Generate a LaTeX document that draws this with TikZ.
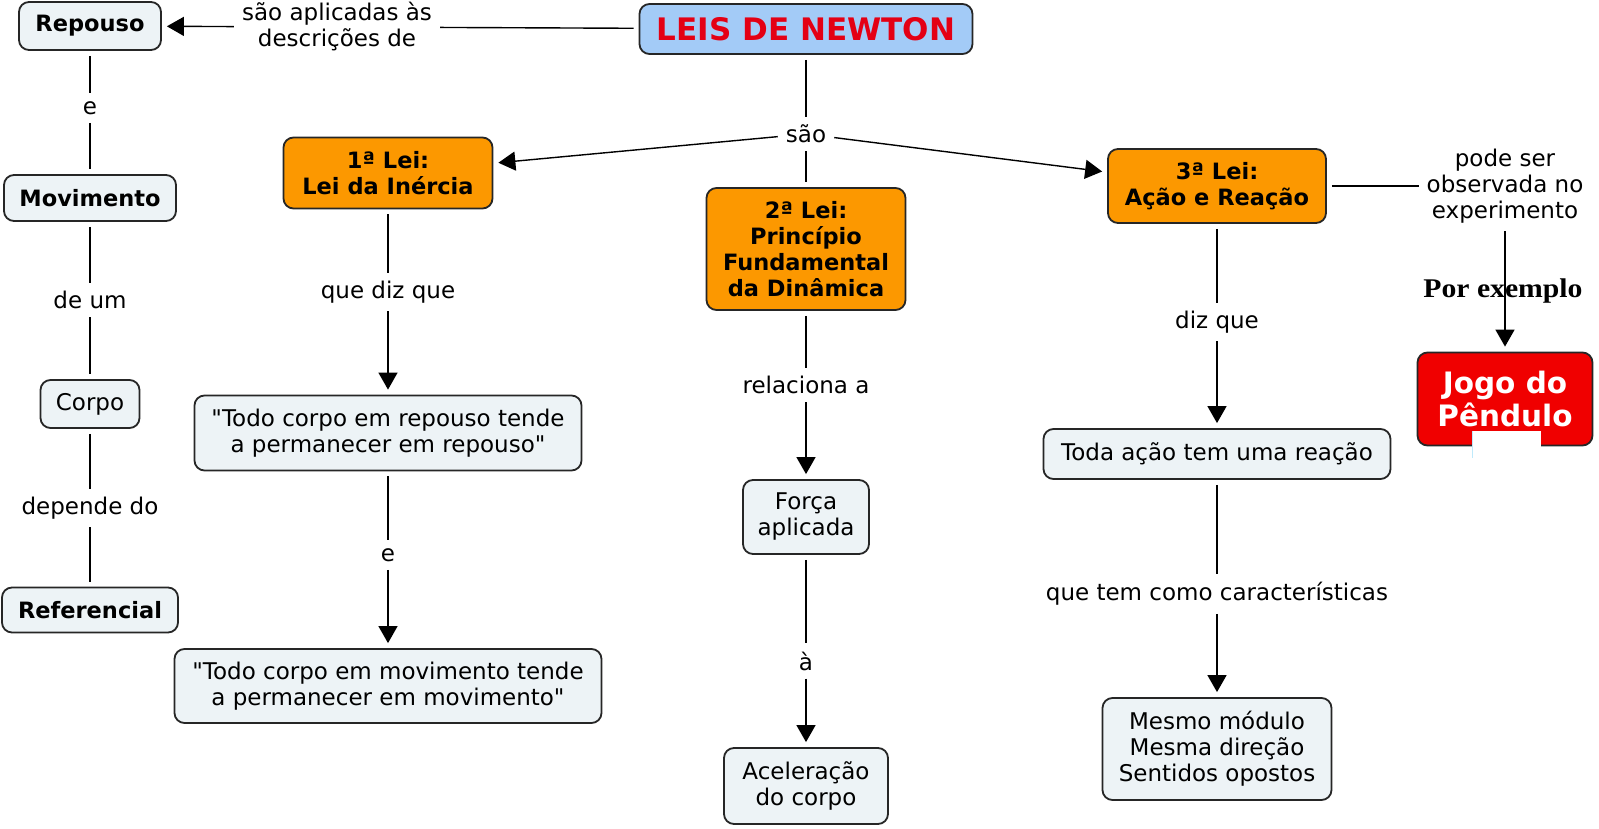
\documentclass[tikz,border=0pt]{standalone}
\usepackage{fontspec}
\newfontfamily\mapfont{DejaVu Sans}
\newfontfamily\examplefont[FakeStretch=1.1]{Liberation Serif}
\usepackage{tikz}
\usetikzlibrary{arrows.meta}

\definecolor{conceptfill}{RGB}{237,243,246}
\definecolor{laworange}{RGB}{252,152,0}
\definecolor{newtonblue}{RGB}{163,203,247}
\definecolor{titlered}{RGB}{228,0,20}
\definecolor{pendred}{RGB}{240,0,0}

\tikzset{
	concept/.style={draw=black!85, line width=1.8pt, rounded corners=10pt, fill=conceptfill,
		align=center, inner sep=0pt, font=\mapfont\fontsize{23}{26}\selectfont},
	keyconcept/.style={concept, font=\mapfont\bfseries\fontsize{22.5}{26}\selectfont},
	lawbox/.style={keyconcept, fill=laworange},
	linklabel/.style={align=center, inner sep=3pt, font=\mapfont\fontsize{23}{26}\selectfont},
	link/.style={line width=1.4pt, shorten <=5pt, shorten >=5pt},
	arrowlink/.style={link, -{Triangle[length=17pt,width=19pt]}},
}

\begin{document}
\begin{tikzpicture}[x=1pt,y=-1pt]
	\useasboundingbox (0,0) rectangle (1599,829);
	% the main concept
	\node[concept, fill=newtonblue, text=titlered, font=\mapfont\bfseries\fontsize{31}{36}\selectfont,
		minimum width=333pt, minimum height=50pt] (newton) at (806,29) {LEIS DE NEWTON};
	% left column
	\node[keyconcept, minimum width=142pt, minimum height=48pt] (repouso) at (90,26) {Repouso};
	\node[keyconcept, minimum width=172pt, minimum height=46pt] (movimento) at (90,198) {Movimento};
	\node[concept, minimum width=99pt, minimum height=48pt] (corpo) at (90,404) {Corpo};
	\node[keyconcept, minimum width=176pt, minimum height=45pt] (referencial) at (90,610) {Referencial};
	\node[linklabel] (aplicadas) at (337,27) {são aplicadas às\\descrições de};
	\node[linklabel] (eRep) at (90,108) {e};
	\node[linklabel] (deUm) at (90,300) {de um};
	\node[linklabel] (dependeDo) at (90,508) {depende do};
	\draw[link] (newton) -- (aplicadas);
	\draw[arrowlink] (aplicadas) -- (repouso);
	\draw[link] (repouso) -- (eRep);
	\draw[link] (eRep) -- (movimento);
	\draw[link] (movimento) -- (deUm);
	\draw[link] (deUm) -- (corpo);
	\draw[link] (corpo) -- (dependeDo);
	\draw[link] (dependeDo) -- (referencial);
	% the three laws
	\node[lawbox, minimum width=209pt, minimum height=71pt] (lei1) at (388,173) {1ª Lei:\\Lei da Inércia};
	\node[lawbox, minimum width=199pt, minimum height=122pt] (lei2) at (806,249) {2ª Lei:\\Princípio\\Fundamental\\da Dinâmica};
	\node[lawbox, minimum width=218pt, minimum height=74pt] (lei3) at (1217,186) {3ª Lei:\\Ação e Reação};
	\node[linklabel] (sao) at (806,134) {são};
	\draw[link] (newton) -- (sao);
	\draw[arrowlink] (sao) -- (lei1);
	\draw[link] (sao) -- (lei2);
	\draw[arrowlink] (sao) -- (lei3);
	% 1a lei
	\node[concept, minimum width=387pt, minimum height=75pt] (inerRep) at (388,433) {"Todo corpo em repouso tende\\a permanecer em repouso"};
	\node[concept, minimum width=427pt, minimum height=74pt] (inerMov) at (388,686) {"Todo corpo em movimento tende\\a permanecer em movimento"};
	\node[linklabel] (dizQue1) at (388,292) {que diz que};
	\node[linklabel] (eIner) at (388,555) {e};
	\draw[link] (lei1) -- (dizQue1);
	\draw[arrowlink] (dizQue1) -- (inerRep);
	\draw[link] (inerRep) -- (eIner);
	\draw[arrowlink] (eIner) -- (inerMov);
	% 2a lei
	\node[concept, minimum width=126pt, minimum height=74pt] (forca) at (806,517) {Força\\aplicada};
	\node[concept, minimum width=164pt, minimum height=76pt] (acel) at (806,786) {Aceleração\\do corpo};
	\node[linklabel] (relaciona) at (806,385) {relaciona a};
	\node[linklabel] (crase) at (806,661) {à};
	\draw[link] (lei2) -- (relaciona);
	\draw[arrowlink] (relaciona) -- (forca);
	\draw[link] (forca) -- (crase);
	\draw[arrowlink] (crase) -- (acel);
	% 3a lei
	\node[concept, minimum width=347pt, minimum height=50pt] (acao) at (1217,454) {Toda ação tem uma reação};
	\node[concept, minimum width=229pt, minimum height=102pt] (carac) at (1217,749) {Mesmo módulo\\Mesma direção\\Sentidos opostos};
	\node[linklabel] (dizQue3) at (1217,322) {diz que};
	\node[linklabel] (queTem) at (1217,594) {que tem como características};
	\draw[link] (lei3) -- (dizQue3);
	\draw[arrowlink] (dizQue3) -- (acao);
	\draw[link] (acao) -- (queTem);
	\draw[arrowlink] (queTem) -- (carac);
	% experimento
	\node[concept, fill=pendred, text=white, font=\mapfont\bfseries\fontsize{29.5}{33}\selectfont,
		minimum width=175pt, minimum height=93pt] (jogo) at (1505,399) {Jogo do\\Pêndulo};
	\node[linklabel] (observada) at (1505,186) {pode ser\\observada no\\experimento};
	\node[anchor=base, inner sep=0pt, font=\examplefont\bfseries\fontsize{27}{30}\selectfont] (exemplo) at (1503,298) {Por exemplo};
	\draw[link] (lei3) -- (observada);
	\draw[arrowlink] (observada) -- (jogo);
	% white patch over the bottom of the red box
	\fill[white] (1472,431) rectangle (1541,458);
	\draw[cyan!25, line width=1pt] (1472,431) -- (1472,458);
\end{tikzpicture}
\end{document}
